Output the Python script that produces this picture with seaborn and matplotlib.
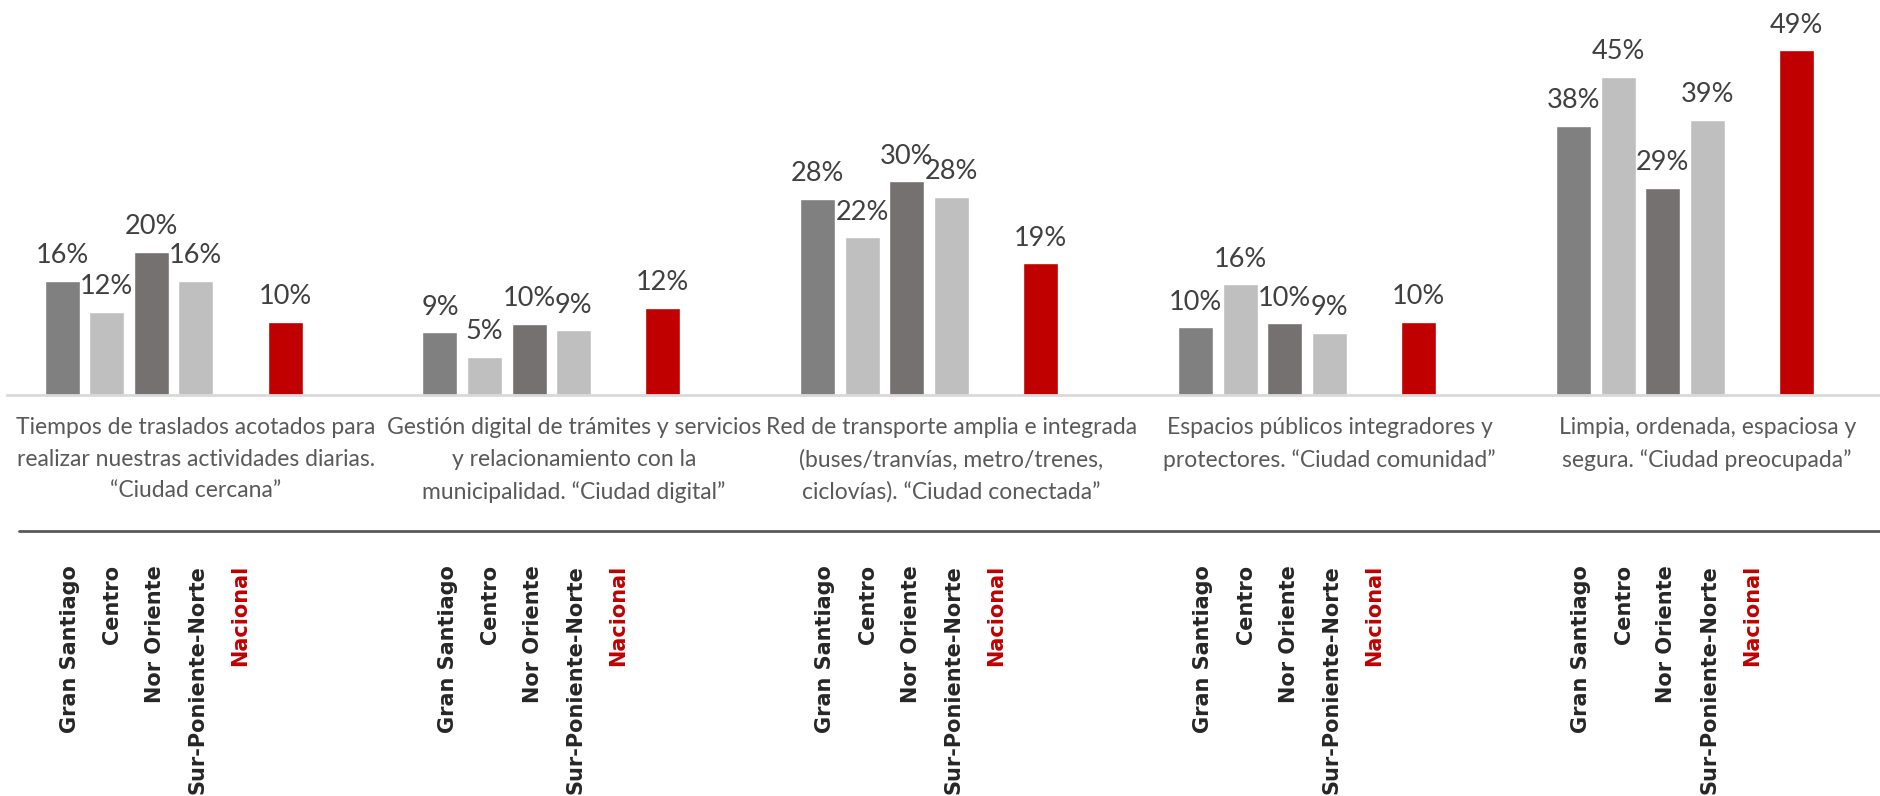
import matplotlib
matplotlib.use('Agg')
import matplotlib.pyplot as plt
from matplotlib.lines import Line2D
import matplotlib.transforms as mtransforms
import pandas as pd
import seaborn as sns

# categorias (atributos de ciudad)
categorias = [
    "Tiempos de traslados acotados para\nrealizar nuestras actividades diarias.\n“Ciudad cercana”",
    "Gestión digital de trámites y servicios\ny relacionamiento con la\nmunicipalidad. “Ciudad digital”",
    "Red de transporte amplia e integrada\n(buses/tranvías, metro/trenes,\nciclovías). “Ciudad conectada”",
    "Espacios públicos integradores y\nprotectores. “Ciudad comunidad”",
    "Limpia, ordenada, espaciosa y\nsegura. “Ciudad preocupada”",
]

zonas = ["Gran Santiago", "Centro", "Nor Oriente", "Sur-Poniente-Norte", "Nacional"]

gran_santiago = [16.2, 8.9, 27.8, 9.6, 38.2]
centro = [11.8, 5.4, 22.4, 15.7, 45.1]
nor_oriente = [20.3, 10.1, 30.3, 10.2, 29.4]
sur_poniente_norte = [16.2, 9.2, 28.1, 8.8, 39.0]
nacional = [10.4, 12.4, 18.7, 10.4, 48.9]

series = [gran_santiago, centro, nor_oriente, sur_poniente_norte, nacional]

colores = {
    "Gran Santiago": "#808080",
    "Centro": "#bfbfbf",
    "Nor Oriente": "#767171",
    "Sur-Poniente-Norte": "#bfbfbf",
    " ": "white",
    "Nacional": "#c00000",
    "  ": "white",
}
# huecos vacios como en el grafico original de Excel
orden_hue = ["Gran Santiago", "Centro", "Nor Oriente", "Sur-Poniente-Norte", " ", "Nacional", "  "]

filas = []
for zona, valores in zip(zonas, series):
    for cat, v in zip(categorias, valores):
        filas.append({"categoria": cat, "zona": zona, "valor": v})
df = pd.DataFrame(filas)

sns.set_style("white")
plt.rcParams['font.family'] = ['Lato', 'DejaVu Sans']

fig = plt.figure(figsize=(18.81, 7.96), dpi=100)
W, H = 1881, 796
ax = fig.add_axes([7 / W, (H - 395) / H, (W - 7) / W, 395 / H])

sns.barplot(data=df, x="categoria", y="valor", hue="zona", hue_order=orden_hue,
            order=categorias, palette=colores, width=0.826, gap=0.215,
            saturation=1, errorbar=None, legend=False, ax=ax)

ax.set_ylim(0, 56)
ax.set_xlim(-0.5, 4.46)
ax.set_xlabel("")
ax.set_ylabel("")
ax.set_yticks([])
for s in ["left", "top", "right"]:
    ax.spines[s].set_visible(False)
ax.spines["bottom"].set_color("#d9d9d9")
ax.spines["bottom"].set_linewidth(2)
ax.tick_params(axis="x", length=0, pad=16, labelsize=16.5, labelcolor="#595959")
for t in ax.get_xticklabels():
    t.set_linespacing(1.62)

for c in ax.containers:
    ax.bar_label(c, fmt="{:.0f}%", padding=9, fontsize=19.5, color="#404040")

# linea separadora
fig.add_artist(Line2D([19 / W, 1.0], [1 - 531 / H, 1 - 531 / H],
                      color="#595959", lw=2))

# etiquetas verticales de zonas
trans = mtransforms.blended_transform_factory(ax.transData, fig.transFigure)
for i in range(len(categorias)):
    for k, zona in enumerate(zonas):
        x = i - 0.334 + 0.113 * k
        ax.text(x, 1 - 565 / H, zona, transform=trans, rotation=90,
                ha="center", va="top", fontsize=15, fontweight="bold",
                family="DejaVu Sans",
                color="#c00000" if zona == "Nacional" else "#262626")

fig.savefig("out.png", dpi=100)
